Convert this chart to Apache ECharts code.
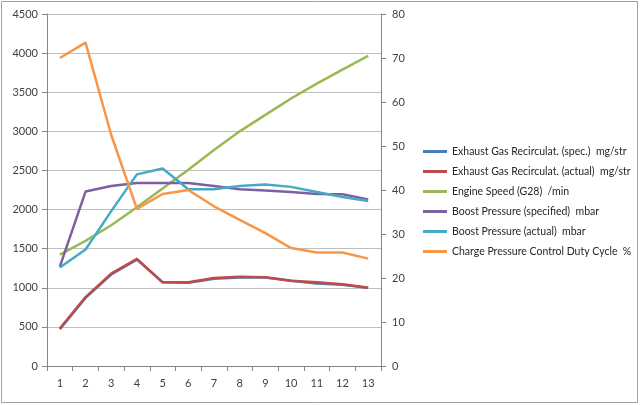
<!DOCTYPE html>
<html><head><meta charset="utf-8">
<script src="https://cdn.jsdelivr.net/npm/echarts@6/dist/echarts.min.js"></script>
<style>html,body{margin:0;padding:0;background:#fff}#c{width:640px;height:405px}</style>
</head><body><div id="c"></div>
<script>
const categories = ['1','2','3','4','5','6','7','8','9','10','11','12','13'];
const egrSpec   = [470, 870, 1170, 1360, 1070, 1065, 1115, 1130, 1130, 1090, 1055, 1040, 1000];
const egrActual = [480, 880, 1180, 1370, 1070, 1070, 1125, 1140, 1135, 1090, 1070, 1045, 1000];
const engineSpeed = [1425, 1600, 1800, 2030, 2270, 2510, 2760, 3000, 3210, 3420, 3610, 3790, 3965];
const boostSpec   = [1270, 2230, 2300, 2340, 2340, 2340, 2300, 2260, 2245, 2225, 2200, 2195, 2130];
const boostActual = [1260, 1490, 1980, 2450, 2525, 2260, 2260, 2300, 2320, 2290, 2225, 2160, 2110];
const dutyCycle   = [70, 73.5, 52.5, 35.7, 39.1, 40, 36.3, 33.2, 30.2, 26.8, 25.8, 25.8, 24.4];
const names = ['Exhaust Gas Recirculat. (spec.)  mg/str','Exhaust Gas Recirculat. (actual)  mg/str','Engine Speed (G28)  /min','Boost Pressure (specified)  mbar','Boost Pressure (actual)  mbar','Charge Pressure Control Duty Cycle  %'];
const colors = ['#4a7ebb','#be4b48','#98b954','#7d60a0','#46aac5','#f79646'];
const FONT = 'Lato';
const chart = echarts.init(document.getElementById('c'));
function ser(i, data, yIdx){
  return {name:names[i], type:'line', data:data, yAxisIndex:yIdx, symbol:'none',
    lineStyle:{width:2.5, color:colors[i]}, itemStyle:{color:colors[i]}, z:2+i};
}
const axisLabel = {color:'#404040', fontFamily:FONT, fontSize:11};
chart.setOption({
  animation:false,
  color:colors,
  graphic:[{type:'rect', shape:{x:1.5,y:1.5,width:636,height:401}, style:{fill:'none', stroke:'#a0a0a0', lineWidth:1}}],
  grid:{left:47, right:259, top:14, bottom:39},
  legend:{orient:'vertical', left:418, top:141, itemWidth:24, itemHeight:3, itemGap:9, icon:'rect',
    textStyle:{color:'#262626', fontFamily:FONT, fontSize:10.5}, data:names},
  xAxis:{type:'category', data:categories, boundaryGap:true,
    axisLine:{lineStyle:{color:'#868686'}}, axisTick:{show:true, length:5, lineStyle:{color:'#868686'}},
    axisLabel:Object.assign({margin:12}, axisLabel)},
  yAxis:[
    {type:'value', min:0, max:4500, interval:500, position:'left',
     axisLine:{show:true, lineStyle:{color:'#868686'}}, axisTick:{show:true, length:5, lineStyle:{color:'#868686'}},
     splitLine:{lineStyle:{color:'#bfbfbf'}}, axisLabel:Object.assign({margin:9, formatter:v=>String(v)}, axisLabel)},
    {type:'value', min:0, max:80, interval:10, position:'right',
     axisLine:{show:true, lineStyle:{color:'#868686'}}, axisTick:{show:true, length:5, lineStyle:{color:'#868686'}},
     splitLine:{show:false}, axisLabel:Object.assign({margin:11, formatter:v=>String(v)}, axisLabel)}
  ],
  series:[ser(0,egrSpec,0), ser(1,egrActual,0), ser(2,engineSpeed,0), ser(3,boostSpec,0), ser(4,boostActual,0), ser(5,dutyCycle,1)]
});
</script></body></html>
